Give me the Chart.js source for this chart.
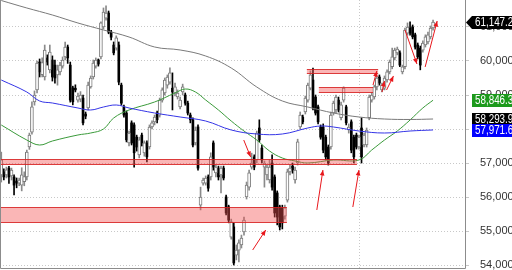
<!DOCTYPE html>
<html>
<head>
<meta charset="utf-8">
<script src="https://cdn.jsdelivr.net/npm/chart.js@4/dist/chart.umd.min.js"></script>
<style>
    html, body { margin: 0; padding: 0; background: #fff; }
    #wrap { width: 512px; height: 270px; }
</style>
</head>
<body>
<div id="wrap"><canvas id="chart"></canvas></div>
<script>
// daily candles, oldest first
const opens = [
    56650, 56740, 56650, 56850, 56620, 56590, 56470, 56410, 56350, 56450,
    56590, 57470, 57910, 58800, 59150, 59970, 59600, 59530, 60090, 59740,
    60030, 59880, 59590, 59680, 59850, 60120, 60410, 59880, 59210, 59200,
    58850, 58880, 58910, 58440, 58620, 59240, 59530, 59850, 60030, 60120,
    61000, 61260, 61410, 60850, 60470, 60380, 60470, 59290, 58650, 58470,
    57590, 58180, 58120, 57760, 57240, 57820, 57300, 57590, 57470, 58060,
    58210, 58470, 58410, 58850, 59060, 59290, 59380, 59200, 59060, 58940,
    58650, 59090, 59000, 58760, 58410, 58270, 57590, 58060, 55760, 56410,
    56410, 56590, 56590, 57590, 56710, 56850, 56650, 56850, 56000, 55710,
    54820, 55120, 54290, 54440, 54590, 54970, 56000, 56290, 56880, 57180,
    57090, 58030, 57440, 56880, 56650, 56500, 57000, 56590, 56120, 55710,
    55680, 55440, 55910, 56740, 56910, 56500, 57000, 58060, 58350, 58500,
    58850, 59200, 59440, 58940, 58650, 58060, 58060, 57760, 57470, 57470,
    58470, 58560, 58850, 58330, 58850, 58650, 57970, 58210, 57760, 57820,
    57470, 58030, 57530, 57530, 58330, 58850, 58940, 59240, 59530, 59150,
    59200, 59440, 59680, 59830, 60090, 60240, 60240, 59680, 59830, 60820,
    60970, 61000, 60770, 60470, 60380, 60320, 60470, 60560, 60710, 60970
];
const highs = [
    57320, 56830, 56880, 56900, 56850, 56650, 56560, 56560, 56860, 56740,
    57380, 57880, 58800, 59120, 60000, 60060, 60090, 60470, 60180, 60470,
    60150, 60030, 59880, 59960, 60120, 60560, 60470, 59970, 59260, 59300,
    59060, 59100, 59000, 58500, 59380, 59560, 60030, 60090, 60060, 61150,
    61560, 61620, 61470, 60900, 60560, 60740, 60560, 59350, 58700, 58530,
    57940, 58240, 58180, 57820, 57760, 57880, 57650, 57650, 58120, 58240,
    58410, 58530, 58910, 59210, 59500, 59590, 59800, 59650, 59350, 59150,
    58940, 59320, 59060, 58820, 58470, 58330, 58060, 58120, 56290, 56560,
    56620, 56650, 57300, 57650, 56940, 56910, 56910, 56910, 56060, 55760,
    55350, 55240, 54590, 54740, 54880, 55410, 56440, 56790, 57290, 57240,
    57940, 58270, 57530, 57060, 56940, 57090, 57240, 56650, 56180, 55760,
    55760, 55760, 56820, 56940, 57000, 56880, 57700, 58500, 58410, 58970,
    59350, 59710, 59790, 59000, 58700, 58120, 58150, 57820, 57530, 58500,
    58820, 59000, 58940, 58790, 59240, 58700, 58150, 58270, 57820, 57880,
    57820, 58330, 57880, 58030, 59000, 59060, 59290, 59560, 59590, 59350,
    59560, 59740, 60030, 60380, 60380, 60410, 60300, 59880, 60970, 61120,
    61150, 61060, 60820, 60530, 60440, 60590, 60770, 60850, 61030, 61200
];
const lows = [
    56440, 56500, 56560, 56400, 56500, 56060, 56270, 56330, 56180, 56330,
    56500, 57400, 57850, 58700, 59060, 59530, 59530, 59440, 59880, 59650,
    59410, 59350, 59290, 59590, 59790, 60030, 59930, 58790, 58710, 59090,
    58790, 58800, 58120, 58300, 58560, 59200, 59470, 59790, 59850, 60060,
    60940, 61200, 60800, 60620, 60180, 60320, 59300, 58700, 58350, 57620,
    57500, 57530, 56880, 57350, 57150, 57500, 57200, 57030, 57410, 58000,
    58120, 58180, 58350, 58790, 59000, 59200, 59320, 58560, 58970, 58880,
    58590, 59000, 58700, 58410, 58180, 57470, 57530, 56790, 55620, 56350,
    56350, 56170, 56500, 56790, 56590, 56500, 56120, 56500, 55470, 55240,
    54760, 54000, 54150, 54090, 54500, 54880, 55940, 56200, 56820, 56800,
    57000, 57620, 57000, 56290, 56500, 56410, 56200, 55410, 55180, 55030,
    55060, 55350, 55850, 56650, 56700, 56410, 56940, 58000, 58150, 58440,
    58790, 59150, 58560, 58410, 58150, 57700, 57300, 57090, 56940, 57410,
    58410, 58470, 58500, 58270, 58790, 58120, 57880, 57300, 57000, 57410,
    57410, 57000, 57470, 57470, 58270, 58790, 58880, 59150, 59290, 59090,
    59150, 59380, 59620, 59770, 60030, 60180, 59830, 59620, 59770, 60760,
    60760, 60650, 60350, 60060, 59740, 60260, 60410, 60500, 60650, 60910
];
const closes = [
    57090, 56590, 56800, 56590, 56790, 56350, 56410, 56500, 56650, 56600,
    57320, 57820, 58650, 59000, 59940, 59680, 59950, 60320, 59970, 60260,
    59530, 59500, 59740, 59880, 60030, 60410, 60090, 58850, 58800, 59150,
    58970, 59000, 58180, 58380, 59290, 59500, 59940, 60030, 59910, 61120,
    61440, 61410, 60850, 60700, 60240, 60680, 59380, 58760, 58410, 57680,
    57880, 57590, 57300, 57470, 57680, 57590, 57590, 57180, 58060, 58180,
    58350, 58270, 58850, 59150, 59440, 59530, 59650, 59090, 59240, 59060,
    58850, 59240, 58760, 58470, 58270, 57530, 57970, 56850, 56000, 56500,
    56560, 56260, 57180, 56880, 56880, 56590, 56850, 56560, 55530, 55320,
    55270, 54060, 54440, 54650, 54790, 55320, 56350, 56710, 57000, 56880,
    57880, 57680, 57090, 57000, 56880, 56880, 56290, 55530, 55410, 55120,
    55240, 55680, 56740, 56850, 56790, 56790, 57620, 58410, 58210, 58910,
    59290, 59590, 58620, 58470, 58210, 57760, 57380, 57180, 57000, 58410,
    58760, 58940, 58560, 58710, 59200, 58180, 58060, 57380, 57180, 57470,
    57760, 57180, 57820, 57970, 58940, 59000, 59240, 59500, 59350, 59290,
    59500, 59680, 59970, 60120, 60320, 60350, 59880, 59830, 60910, 61000,
    60820, 60710, 60410, 60120, 59880, 60530, 60710, 60770, 60970, 61147.2
];

// moving averages at a few candles
const maSlowAt = [0, 10, 20, 30, 40, 50, 60, 70, 80, 90, 100, 110, 120, 130, 140, 150, 160, 169];
const maSlow   = [61779, 61559, 61353, 61118, 60912, 60706, 60412, 60324, 60147, 59794, 59235, 58824, 58647, 58471, 58353, 58294, 58280, 58293.9];
const maMidAt  = [0, 10, 15, 20, 30, 35, 40, 45, 50, 60, 70, 80, 90, 100, 110, 120, 125, 130, 140, 150, 160, 169];
const maMid    = [59441, 59088, 58824, 58765, 58618, 58559, 58647, 58706, 58618, 58471, 58353, 58235, 57971, 57853, 57853, 58030, 58088, 58059, 57941, 57882, 57941, 57971.6];
const maFastAt = [0, 10, 15, 20, 30, 35, 40, 44, 50, 60, 68, 72, 76, 80, 85, 90, 95, 100, 105, 110, 115, 120, 130, 140, 145, 150, 155, 160, 165, 169];
const maFast   = [58118, 57676, 57529, 57647, 57824, 57882, 58000, 58324, 58559, 58794, 59059, 59176, 59088, 58853, 58559, 58235, 57941, 57676, 57353, 57147, 57059, 57000, 57088, 57088, 57382, 57676, 57941, 58265, 58618, 58846.3];

// red zones: [from candle, to candle, low, high]
const zones = [
    [-1, 139.2, 56970, 57120],
    [-1, 111.8, 55265, 55710],
    [119.6, 147.5, 59647, 59765],
    [124.3, 145.5, 59088, 59235]
];
// red arrows: [from candle, from price, to candle, to price]
const arrows = [
    [94.9, 57676, 97.6, 57177],
    [98.4, 54441, 103.5, 55029],
    [123.5, 55618, 125.9, 56794],
    [137.6, 55706, 140.0, 56794],
    [145.5, 59294, 147.0, 59706],
    [149.0, 59088, 150.0, 59412],
    [150.8, 59147, 153.5, 59560],
    [158.0, 60912, 162.7, 59912],
    [165.9, 59824, 170.6, 61176]
];

const slots = 182;
const yTicks = [54000, 55000, 56000, 57000, 58000, 59000, 60000, 61000];
const monthLine = 140;   // the one dotted vertical grid line

const n = closes.length;
const up = closes.map((c, i) => c >= opens[i]);
const labels = Array.from({ length: slots }, (_, i) => String(i));
const FONT = '"Liberation Sans", Arial, sans-serif';

function sparse(at, vals) {
    const out = new Array(n).fill(null);
    at.forEach((idx, k) => { out[idx] = vals[k]; });
    return out;
}

function fmt(v, dec) {
    return v.toLocaleString('en-US', { minimumFractionDigits: dec, maximumFractionDigits: dec });
}

const overlay = {
    id: 'overlay',
    beforeDatasetsDraw(chart) {
        const { ctx, chartArea: a, scales: { x } } = chart;
        const gx = Math.round(x.getPixelForValue(monthLine)) + 0.5;
        ctx.save();
        ctx.strokeStyle = '#c8c8c8';
        ctx.setLineDash([1, 2]);
        ctx.beginPath();
        ctx.moveTo(gx, a.top);
        ctx.lineTo(gx, a.bottom);
        ctx.stroke();
        ctx.restore();
    },
    afterDatasetsDraw(chart) {
        const { ctx, chartArea: a, scales: { x, y } } = chart;
        ctx.save();
        ctx.beginPath();
        ctx.rect(a.left, a.top, a.right - a.left, a.bottom - a.top);
        ctx.clip();
        zones.forEach(([i0, i1, lo, hi]) => {
            const x0 = Math.max(a.left, x.getPixelForValue(i0));
            const x1 = x.getPixelForValue(i1);
            const y0 = Math.round(y.getPixelForValue(hi)) + 0.5;
            const y1 = Math.round(y.getPixelForValue(lo)) + 0.5;
            ctx.fillStyle = 'rgba(242, 80, 80, 0.42)';
            ctx.fillRect(x0, y0, x1 - x0, y1 - y0);
            ctx.strokeStyle = 'rgba(215, 30, 30, 0.85)';
            ctx.lineWidth = 1;
            ctx.beginPath();
            ctx.moveTo(x0, y0); ctx.lineTo(x1, y0);
            ctx.moveTo(x0, y1); ctx.lineTo(x1, y1);
            ctx.stroke();
        });
        ctx.strokeStyle = '#e8171c';
        ctx.fillStyle = '#e8171c';
        ctx.lineWidth = 1;
        arrows.forEach(([i0, v0, i1, v1]) => {
            const ax = x.getPixelForValue(i0), ay = y.getPixelForValue(v0);
            const bx = x.getPixelForValue(i1), by = y.getPixelForValue(v1);
            const ang = Math.atan2(by - ay, bx - ax);
            ctx.beginPath();
            ctx.moveTo(ax, ay);
            ctx.lineTo(bx, by);
            ctx.stroke();
            ctx.beginPath();
            ctx.moveTo(bx, by);
            ctx.lineTo(bx - 6 * Math.cos(ang - 0.4), by - 6 * Math.sin(ang - 0.4));
            ctx.lineTo(bx - 6 * Math.cos(ang + 0.4), by - 6 * Math.sin(ang + 0.4));
            ctx.closePath();
            ctx.fill();
        });
        ctx.restore();
    },
    afterDraw(chart) {
        const { ctx, chartArea: a, scales: { y } } = chart;
        ctx.save();
        // frame
        ctx.strokeStyle = '#8c8c8c';
        ctx.lineWidth = 1;
        ctx.beginPath();
        ctx.moveTo(a.left + 0.5, a.top);
        ctx.lineTo(a.left + 0.5, a.bottom + 0.5);
        ctx.lineTo(a.right + 0.5, a.bottom + 0.5);
        ctx.lineTo(a.right + 0.5, a.top);
        ctx.stroke();
        // last-value tags on the price axis
        const tags = [
            { v: closes[n - 1], bg: '#000', arrow: true },
            { v: maFast[maFast.length - 1], bg: '#1c9a1c' },
            { v: maSlow[maSlow.length - 1], bg: '#000' },
            { v: maMid[maMid.length - 1], bg: '#0000ff' }
        ];
        ctx.font = '12px ' + FONT;
        ctx.textBaseline = 'middle';
        tags.forEach(t => {
            const cy = Math.round(y.getPixelForValue(t.v));
            const x0 = a.right + 7;
            ctx.fillStyle = t.bg;
            ctx.fillRect(x0, cy - 6, 60, 13);
            if (t.arrow) {
                ctx.beginPath();
                ctx.moveTo(x0, cy - 6);
                ctx.lineTo(a.right + 1, cy + 0.5);
                ctx.lineTo(x0, cy + 7);
                ctx.closePath();
                ctx.fill();
            }
            // the tag text is narrow in the original, squeeze it a little
            ctx.save();
            ctx.translate(x0 + 3, cy + 1);
            ctx.scale(0.82, 1);
            ctx.fillStyle = '#fff';
            ctx.fillText(fmt(t.v, 1), 0, 0);
            ctx.restore();
        });
        ctx.restore();
    }
};

new Chart(document.getElementById('chart'), {
    type: 'bar',
    data: {
        labels,
        datasets: [
            {
                type: 'line', data: sparse(maSlowAt, maSlow), borderColor: '#7a7a7a', borderWidth: 1,
                pointRadius: 0, spanGaps: true, tension: 0.4, order: 1
            },
            {
                type: 'line', data: sparse(maMidAt, maMid), borderColor: '#3434e6', borderWidth: 1,
                pointRadius: 0, spanGaps: true, tension: 0.4, order: 1
            },
            {
                type: 'line', data: sparse(maFastAt, maFast), borderColor: '#3a9a3a', borderWidth: 1,
                pointRadius: 0, spanGaps: true, tension: 0.4, order: 1
            },
            {
                data: lows.map((l, i) => [l, highs[i]]),
                backgroundColor: up.map(u => u ? '#8a8a8a' : '#000'),
                barThickness: 1, grouped: false, order: 4
            },
            {
                data: opens.map((o, i) => up[i] ? [o, closes[i]] : null),
                backgroundColor: '#fff', borderColor: '#7a7a7a', borderWidth: 1, borderSkipped: false,
                barThickness: 3, grouped: false, order: 3
            },
            {
                data: opens.map((o, i) => up[i] ? null : [o, closes[i]]),
                backgroundColor: '#000', barThickness: 2, grouped: false, order: 3
            }
        ]
    },
    options: {
        responsive: true,
        maintainAspectRatio: false,
        animation: false,
        devicePixelRatio: 1,
        layout: { padding: { left: 0, top: 0, right: 0, bottom: 2 } },
        plugins: { legend: { display: false }, tooltip: { enabled: false } },
        scales: {
            x: { type: 'category', display: false, offset: true, grid: { display: false } },
            y: {
                position: 'right',
                min: 53912,
                max: 61794,
                afterBuildTicks: s => { s.ticks = yTicks.map(v => ({ value: v })); },
                afterFit: s => { s.width = 47; s.paddingTop = 0; s.paddingBottom = 0; },
                grid: { color: '#c8c8c8', tickLength: 4, drawTicks: true },
                border: { display: false, dash: [1, 2] },
                ticks: {
                    padding: 11,
                    color: '#333',
                    font: { family: FONT, size: 11 },
                    callback: v => fmt(v, 0)
                }
            }
        }
    },
    plugins: [overlay]
});
</script>
</body>
</html>
